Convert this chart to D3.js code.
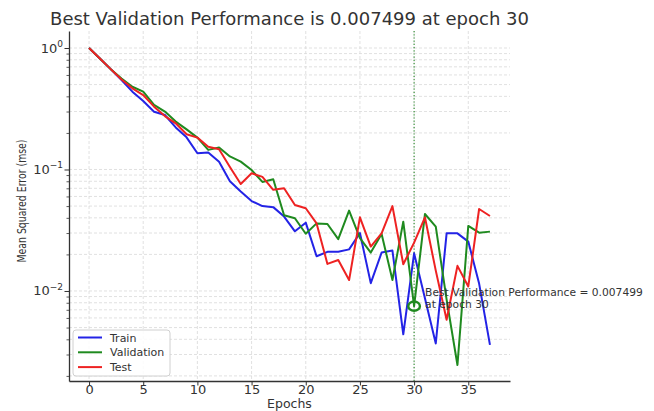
<!DOCTYPE html>
<html>
<head>
<meta charset="utf-8">
<script src="https://cdn.jsdelivr.net/npm/d3@7"></script>
<style>
  body { margin: 0; background: #fff; }
  svg { display: block; font-family: "DejaVu Sans", sans-serif; }
</style>
</head>
<body>
<svg id="chart" width="654" height="411"></svg>
<script>
// Mean squared error per epoch for the three data splits
const trainMse = [1.0, 0.82, 0.67, 0.545, 0.437, 0.366, 0.299, 0.281, 0.222, 0.184,
  0.136, 0.138, 0.116, 0.08, 0.066, 0.055, 0.050, 0.049, 0.041, 0.031,
  0.0365, 0.0193, 0.021, 0.021, 0.022, 0.030, 0.0116, 0.0207, 0.0215, 0.0044,
  0.0204, 0.0087, 0.0037, 0.0298, 0.0298, 0.0255, 0.0115, 0.0036];
const validationMse = [1.0, 0.82, 0.67, 0.56, 0.48, 0.437, 0.34, 0.30, 0.248, 0.214,
  0.183, 0.145, 0.152, 0.128, 0.116, 0.099, 0.079, 0.083, 0.042, 0.0397,
  0.0296, 0.0360, 0.0356, 0.0267, 0.0459, 0.0272, 0.0207, 0.0295, 0.0123, 0.0372,
  0.007499, 0.043, 0.0338, 0.0085, 0.00246, 0.0343, 0.0302, 0.0308];
const testMse = [1.0, 0.82, 0.67, 0.55, 0.466, 0.41, 0.329, 0.275, 0.24, 0.195,
  0.183, 0.154, 0.147, 0.105, 0.076, 0.093, 0.087, 0.068, 0.070, 0.051,
  0.048, 0.036, 0.0167, 0.018, 0.0123, 0.0404, 0.0232, 0.0298, 0.050, 0.0166,
  0.025, 0.0404, 0.0147, 0.0058, 0.0161, 0.0109, 0.0473, 0.0414];

const seriesNames = ["Train", "Validation", "Test"];
const seriesColors = ["#2323e6", "#1f8a1f", "#ee2222"];
const xTickValues = [0, 5, 10, 15, 20, 25, 30, 35];
const yMajorExponents = [0, -1, -2];

const bestEpoch = 30;
const bestValue = validationMse[bestEpoch];

const svg = d3.select("#chart");
const plot = { left: 69, right: 510, top: 31, bottom: 381 };
const nEpochs = trainMse.length;
const pad = (nEpochs - 1) * 0.05;

const x = d3.scaleLinear()
  .domain([-pad, nEpochs - 1 + pad])
  .range([plot.left, plot.right]);
const y = d3.scaleLog()
  .domain([Math.pow(10, -2.741), Math.pow(10, 0.14)])
  .range([plot.bottom, plot.top]);

const yMajor = yMajorExponents.map(e => Math.pow(10, e));
const yMinor = [];
[-3, -2, -1, 0].forEach(e => {
  for (let k = 2; k <= 9; k++) {
    const v = k * Math.pow(10, e);
    if (v >= y.domain()[0] && v <= y.domain()[1]) yMinor.push(v);
  }
});

// grid
const grid = svg.append("g").attr("stroke", "#d9d9d9").attr("stroke-width", 0.8)
  .attr("stroke-dasharray", "3,2").attr("fill", "none");
grid.selectAll("line.v").data(xTickValues).join("line")
  .attr("x1", d => x(d)).attr("x2", d => x(d))
  .attr("y1", plot.top).attr("y2", plot.bottom);
grid.selectAll("line.h").data(yMajor.concat(yMinor)).join("line")
  .attr("x1", plot.left).attr("x2", plot.right)
  .attr("y1", d => y(d)).attr("y2", d => y(d));

// best-epoch marker line
svg.append("line")
  .attr("x1", x(bestEpoch)).attr("x2", x(bestEpoch))
  .attr("y1", plot.top).attr("y2", plot.bottom)
  .attr("stroke", "#2a8a2a").attr("stroke-width", 1.1)
  .attr("stroke-dasharray", "1.2,2");

// series lines
const line = d3.line().x((d, i) => x(i)).y(d => y(d));
const allSeries = [trainMse, validationMse, testMse];
svg.append("g").selectAll("path").data(allSeries).join("path")
  .attr("d", d => line(d))
  .attr("fill", "none")
  .attr("stroke", (d, i) => seriesColors[i])
  .attr("stroke-width", 2)
  .attr("stroke-linejoin", "round");

// best-performance marker
svg.append("ellipse")
  .attr("cx", x(bestEpoch)).attr("cy", y(bestValue))
  .attr("rx", 5.8).attr("ry", 4.6)
  .attr("fill", "none").attr("stroke", "#1f8a1f").attr("stroke-width", 2.4);

const noteX = x(bestEpoch) + 11;
const note = svg.append("text")
  .attr("x", noteX).attr("y", y(bestValue) - 10.5)
  .attr("font-size", 10.7).attr("fill", "#333");
note.append("tspan").text("Best Validation Performance = " + bestValue);
note.append("tspan").attr("x", noteX).attr("dy", 12).text("at epoch " + bestEpoch);

// axes
const xAxis = svg.append("g")
  .attr("transform", `translate(0,${plot.bottom})`)
  .call(d3.axisBottom(x).tickValues(xTickValues).tickSize(4.5).tickPadding(-0.5).tickSizeOuter(0));
xAxis.select(".domain").attr("stroke", "#333").attr("stroke-width", 1.3);
xAxis.selectAll(".tick line").attr("stroke", "#333").attr("stroke-width", 1);
xAxis.selectAll(".tick text").attr("font-size", 13).attr("fill", "#333")
  .attr("font-family", "DejaVu Sans, sans-serif");

const yAxis = svg.append("g")
  .attr("transform", `translate(${plot.left},0)`)
  .call(d3.axisLeft(y).tickValues(yMajor).tickSize(4.5).tickFormat("").tickSizeOuter(0));
yAxis.select(".domain").attr("stroke", "#333").attr("stroke-width", 1.3);
yAxis.selectAll(".tick line").attr("stroke", "#333").attr("stroke-width", 1);

const yMinorAxis = svg.append("g")
  .attr("transform", `translate(${plot.left},0)`)
  .call(d3.axisLeft(y).tickValues(yMinor).tickSize(2.5).tickFormat("").tickSizeOuter(0));
yMinorAxis.select(".domain").remove();
yMinorAxis.selectAll(".tick line").attr("stroke", "#333").attr("stroke-width", 0.8);

// y tick labels as powers of ten
const yLabels = svg.append("g").attr("fill", "#333");
yMajorExponents.forEach(e => {
  const t = yLabels.append("text")
    .attr("x", plot.left - 6).attr("y", y(Math.pow(10, e)) + 4.5)
    .attr("text-anchor", "end").attr("font-size", 13);
  t.append("tspan").text("10");
  t.append("tspan").attr("font-size", 9).attr("dy", -5.5)
    .text(e === 0 ? "0" : "\u2212" + Math.abs(e));
});

// axis titles
svg.append("text")
  .attr("x", (plot.left + plot.right) / 2).attr("y", 407.8)
  .attr("text-anchor", "middle").attr("font-size", 12.5).attr("fill", "#333")
  .text("Epochs");
svg.append("text")
  .attr("transform", `translate(25.5,${(plot.top + plot.bottom) / 2 - 5}) rotate(-90)`)
  .attr("text-anchor", "middle").attr("font-size", 13).attr("fill", "#333")
  .attr("textLength", 123).attr("lengthAdjust", "spacingAndGlyphs")
  .text("Mean Squared Error (mse)");

svg.append("text")
  .attr("x", (plot.left + plot.right) / 2).attr("y", 25)
  .attr("text-anchor", "middle").attr("font-size", 18).attr("fill", "#333")
  .text("Best Validation Performance is " + bestValue + " at epoch " + bestEpoch);

// legend
const legend = svg.append("g").attr("transform", "translate(73,330)");
legend.append("rect").attr("width", 97).attr("height", 46).attr("rx", 3)
  .attr("fill", "#fff").attr("fill-opacity", 0.85)
  .attr("stroke", "#d0d0d0").attr("stroke-width", 1);
seriesNames.forEach((name, i) => {
  const ly = 7.5 + i * 14.8;
  legend.append("line").attr("x1", 5).attr("x2", 29).attr("y1", ly).attr("y2", ly)
    .attr("stroke", seriesColors[i]).attr("stroke-width", 2);
  legend.append("text").attr("x", 37).attr("y", ly + 4)
    .attr("font-size", 11).attr("fill", "#333").text(name);
});
</script>
</body>
</html>
